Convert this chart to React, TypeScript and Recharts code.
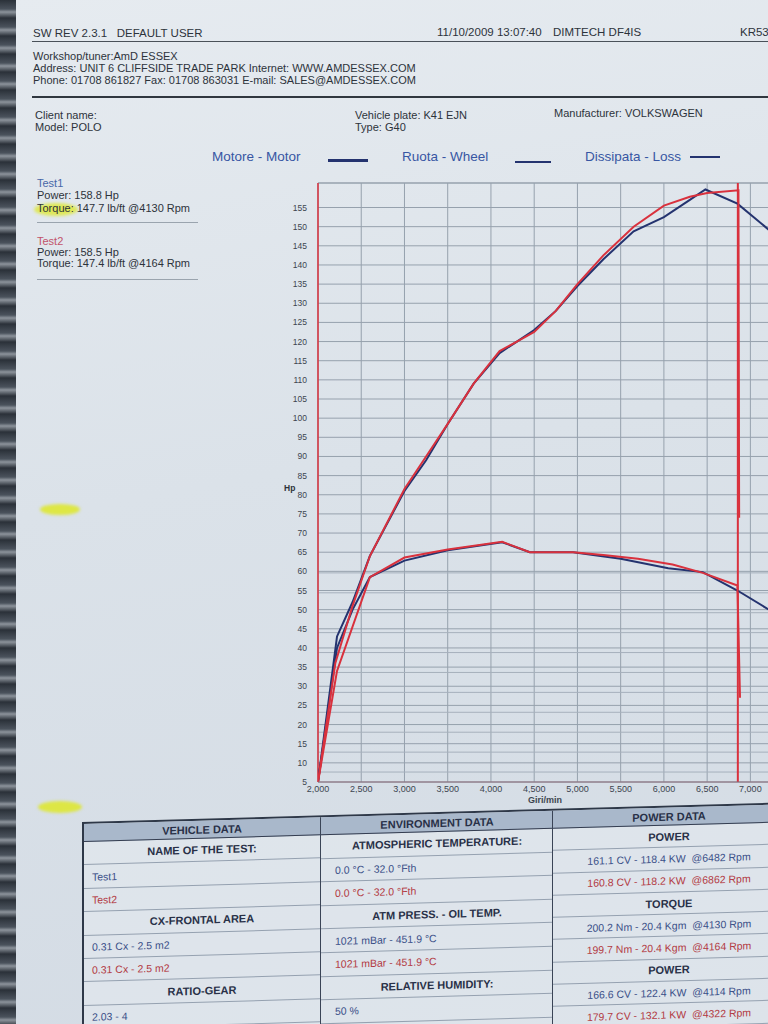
import { LineChart, Line, XAxis, YAxis, CartesianGrid, ReferenceLine, Label } from "recharts";

// rpm axis and Hp axis ticks
const rpmTicks = [2000, 2500, 3000, 3500, 4000, 4500, 5000, 5500, 6000, 6500, 7000];
const hpTicks = [5, 10, 15, 20, 25, 30, 35, 40, 45, 50, 55, 60, 65, 70, 75, 80, 85, 90, 95, 100, 105, 110, 115, 120, 125, 130, 135, 140, 145, 150, 155];
// second, faint grid that shows through in the lower half of the sheet (Hp units)
const auxGrid = [7.6, 12.8, 18, 23.2, 28.4, 33.6, 38.8, 44, 49.2, 54.4, 59.6];

// Test1 (blue)
const test1PowerRpm = [2000, 2220, 2400, 2600, 3000, 3250, 3500, 3800, 4100, 4300, 4500, 4750, 5000, 5300, 5650, 6000, 6300, 6480, 6850, 7250];
const test1PowerHp = [5, 43, 52, 64, 81, 89, 98.5, 109, 117, 120, 123, 128, 134.5, 141.5, 148.8, 152.5, 157, 159.7, 156, 148.5];
const test1TorqueRpm = [2000, 2220, 2400, 2600, 3000, 3500, 4130, 4450, 4950, 5500, 6050, 6450, 6850, 7250];
const test1Torque = [5, 40, 50, 58.5, 62.8, 65.5, 67.6, 65, 65, 63.3, 60.8, 59.8, 55, 49.5];

// Test2 (red)
const test2PowerRpm = [2000, 2200, 2400, 2600, 3000, 3250, 3500, 3800, 4100, 4300, 4500, 4750, 5000, 5300, 5650, 6000, 6300, 6500, 6862, 6870];
const test2PowerHp = [5, 36, 51, 64, 81.5, 90, 98.5, 109, 117.5, 120, 122.5, 128, 135, 142.5, 150, 155.5, 157.8, 158.8, 159.5, 74];
const test2TorqueRpm = [2000, 2220, 2600, 3000, 3500, 4130, 4450, 4950, 5300, 5700, 6100, 6450, 6850, 6880];
const test2Torque = [5, 34, 58.5, 63.6, 65.7, 67.7, 65, 65, 64.3, 63.3, 61.8, 59.6, 56.3, 27];

// table text
type Cell = { text: string; kind: "head" | "label" | "t1" | "t2" };
const vehicleCells: Cell[] = [
  { text: "VEHICLE DATA", kind: "head" },
  { text: "NAME OF THE TEST:", kind: "label" },
  { text: "Test1", kind: "t1" },
  { text: "Test2", kind: "t2" },
  { text: "CX-FRONTAL AREA", kind: "label" },
  { text: "0.31 Cx - 2.5 m2", kind: "t1" },
  { text: "0.31 Cx - 2.5 m2", kind: "t2" },
  { text: "RATIO-GEAR", kind: "label" },
  { text: "2.03 - 4", kind: "t1" },
];
const environmentCells: Cell[] = [
  { text: "ENVIRONMENT DATA", kind: "head" },
  { text: "ATMOSPHERIC TEMPERATURE:", kind: "label" },
  { text: "0.0 °C - 32.0 °Fth", kind: "t1" },
  { text: "0.0 °C - 32.0 °Fth", kind: "t2" },
  { text: "ATM PRESS. - OIL TEMP.", kind: "label" },
  { text: "1021 mBar - 451.9 °C", kind: "t1" },
  { text: "1021 mBar - 451.9 °C", kind: "t2" },
  { text: "RELATIVE HUMIDITY:", kind: "label" },
  { text: "50 %", kind: "t1" },
];
const powerCells: Cell[] = [
  { text: "POWER DATA", kind: "head" },
  { text: "POWER", kind: "label" },
  { text: "161.1 CV - 118.4 KW  @6482 Rpm", kind: "t1" },
  { text: "160.8 CV - 118.2 KW  @6862 Rpm", kind: "t2" },
  { text: "TORQUE", kind: "label" },
  { text: "200.2 Nm - 20.4 Kgm  @4130 Rpm", kind: "t1" },
  { text: "199.7 Nm - 20.4 Kgm  @4164 Rpm", kind: "t2" },
  { text: "POWER", kind: "label" },
  { text: "166.6 CV - 122.4 KW  @4114 Rpm", kind: "t1" },
  { text: "179.7 CV - 132.1 KW  @4322 Rpm", kind: "t2" },
];

const toPoints = (rpm: number[], vals: number[]) => rpm.map((r, i) => ({ rpm: r, hp: vals[i] }));

const BLUE = "#24336f";
const RED = "#d9313d";
const GRID = "#96a1ad";
const FONT = "'Liberation Sans', Arial, sans-serif";

const T = ({ x, y, size = 11, color = "#2d333b", bold = false, children }: any) => (
  <div style={{ position: "absolute", left: x, top: y - size * 0.6, fontSize: size, lineHeight: 1.15, color, fontWeight: bold ? 700 : 400, whiteSpace: "pre" }}>
    {children}
  </div>
);

function TableColumn({ left, width, rowH, cells, valueAlign, pad }: any) {
  return (
    <div style={{ position: "absolute", left, top: 0, width, borderLeft: left > 0 ? "1.5px solid #3a4456" : undefined }}>
      {cells.map((c: Cell, i: number) => {
        const isHead = c.kind === "head";
        const isLabel = c.kind === "label";
        const color = isHead || isLabel ? "#283047" : c.kind === "t1" ? "#3a4f88" : "#b23942";
        return (
          <div
            key={i}
            style={{
              height: isHead ? 18 : rowH,
              display: "flex",
              alignItems: "center",
              justifyContent: isHead || isLabel || valueAlign === "center" ? "center" : "flex-start",
              paddingLeft: isHead || isLabel ? 0 : pad,
              background: isHead ? "#a9b8cb" : "transparent",
              borderBottom: isHead ? "1.5px solid #343d50" : "1px solid #95a1b0",
              boxSizing: "border-box",
              fontSize: isHead || isLabel ? 11 : 10.5,
              fontWeight: isHead || isLabel ? 700 : 400,
              color,
              whiteSpace: "pre",
            }}
          >
            {c.text}
          </div>
        );
      })}
    </div>
  );
}

export default function App() {
  return (
    <div
      style={{
        position: "absolute",
        left: 0,
        top: 0,
        width: 768,
        height: 1024,
        overflow: "hidden",
        fontFamily: FONT,
        background: "linear-gradient(170deg, #e6ebf0 0%, #dbe2e9 45%, #d3dbe4 100%)",
      }}
    >
      {/* binder edge on the left of the photo */}
      <div style={{ position: "absolute", left: 0, top: 0, width: 16, height: 1024, background: "repeating-linear-gradient(180deg, #2b3139 0px, #4a525c 9px, #8c939b 12px, #2b3139 18px)" }} />

      {/* highlighter marks */}
      <div style={{ position: "absolute", left: 34, top: 203, width: 44, height: 13, borderRadius: "50%", background: "rgba(222,232,40,0.75)", filter: "blur(1.5px)" }} />
      <div style={{ position: "absolute", left: 40, top: 504, width: 40, height: 11, borderRadius: "50%", background: "rgba(222,232,40,0.85)", filter: "blur(1.5px)" }} />
      <div style={{ position: "absolute", left: 38, top: 801, width: 44, height: 12, borderRadius: "50%", background: "rgba(222,232,40,0.85)", filter: "blur(1.5px)" }} />

      {/* header */}
      <T x={33} y={34} size={11.5}>SW REV 2.3.1   DEFAULT USER</T>
      <T x={437} y={33} size={11.5}>11/10/2009 13:07:40</T>
      <T x={553} y={33} size={11.5}>DIMTECH DF4IS</T>
      <T x={740} y={33} size={11.5}>KR53</T>
      <div style={{ position: "absolute", left: 32, top: 41, width: 740, height: 1, background: "#4a5159" }} />

      <T x={33} y={57}>Workshop/tuner:AmD ESSEX</T>
      <T x={33} y={69}>Address: UNIT 6 CLIFFSIDE TRADE PARK Internet: WWW.AMDESSEX.COM</T>
      <T x={33} y={81}>Phone: 01708 861827 Fax: 01708 863031 E-mail: SALES@AMDESSEX.COM</T>
      <div style={{ position: "absolute", left: 32, top: 96, width: 740, height: 2, background: "#30373f" }} />

      <T x={35} y={116}>Client name:</T>
      <T x={35} y={128}>Model: POLO</T>
      <T x={355} y={116}>Vehicle plate: K41 EJN</T>
      <T x={355} y={128}>Type: G40</T>
      <T x={554} y={114}>Manufacturer: VOLKSWAGEN</T>

      {/* legend */}
      <T x={212} y={157} size={13.5} color="#3756a3">Motore - Motor</T>
      <div style={{ position: "absolute", left: 328, top: 159, width: 40, height: 3, background: BLUE }} />
      <T x={402} y={157} size={13.5} color="#3756a3">Ruota - Wheel</T>
      <div style={{ position: "absolute", left: 515, top: 161, width: 36, height: 2, background: BLUE }} />
      <T x={585} y={157} size={13.5} color="#3756a3">Dissipata - Loss</T>
      <div style={{ position: "absolute", left: 690, top: 156, width: 30, height: 1.5, background: BLUE }} />

      {/* test summaries */}
      <T x={37} y={184} color="#4767a8">Test1</T>
      <T x={37} y={196}>Power: 158.8 Hp</T>
      <T x={37} y={209}>Torque: 147.7 lb/ft @4130 Rpm</T>
      <div style={{ position: "absolute", left: 37, top: 222, width: 161, height: 1, background: "#9aa4ae" }} />
      <T x={37} y={242} color="#c2536b">Test2</T>
      <T x={37} y={253}>Power: 158.5 Hp</T>
      <T x={37} y={264}>Torque: 147.4 lb/ft @4164 Rpm</T>
      <div style={{ position: "absolute", left: 37, top: 279, width: 161, height: 1, background: "#9aa4ae" }} />

      <T x={284} y={489} size={8.5} bold>Hp</T>

      <div style={{ position: "absolute", left: 0, top: 0 }}>
        <LineChart width={772} height={808} margin={{ top: 183, right: 0, left: 0, bottom: 0 }}>
          <CartesianGrid stroke={GRID} strokeWidth={1} />
          <XAxis
            type="number"
            dataKey="rpm"
            domain={[2000, 7250]}
            ticks={rpmTicks}
            allowDataOverflow
            interval={0}
            height={26}
            tickLine={false}
            tickSize={2}
            tickMargin={2}
            stroke="#8a6a78"
            tick={{ fontSize: 9, fill: "#3d4550", fontFamily: FONT }}
            tickFormatter={(v: number) => v.toLocaleString("en-US")}
          >
            <Label value="Giri/min" position="insideBottom" offset={5} style={{ fontSize: 9, fontWeight: 700, fill: "#3d4550", fontFamily: FONT }} />
          </XAxis>
          <YAxis
            type="number"
            domain={[5, 161.4]}
            ticks={hpTicks}
            allowDataOverflow
            interval={0}
            width={318}
            axisLine={false}
            tickLine={false}
            tickSize={6}
            tickMargin={5}
            tick={{ fontSize: 8.5, fill: "#3d4550", fontFamily: FONT }}
          />
          {auxGrid.map((v) => (
            <ReferenceLine key={v} y={v} stroke="#a6b0bc" strokeWidth={1} />
          ))}
          <ReferenceLine y={161.4} stroke={GRID} />
          <ReferenceLine x={2000} stroke={RED} strokeWidth={1.5} />
          <ReferenceLine x={6855} stroke={RED} strokeWidth={2} />
          <Line data={toPoints(test1PowerRpm, test1PowerHp)} dataKey="hp" type="linear" stroke={BLUE} strokeWidth={2} dot={false} isAnimationActive={false} />
          <Line data={toPoints(test1TorqueRpm, test1Torque)} dataKey="hp" type="linear" stroke={BLUE} strokeWidth={2} dot={false} isAnimationActive={false} />
          <Line data={toPoints(test2PowerRpm, test2PowerHp)} dataKey="hp" type="linear" stroke={RED} strokeWidth={2} dot={false} isAnimationActive={false} />
          <Line data={toPoints(test2TorqueRpm, test2Torque)} dataKey="hp" type="linear" stroke={RED} strokeWidth={2} dot={false} isAnimationActive={false} />
        </LineChart>
      </div>

      {/* data table */}
      <div
        style={{
          position: "absolute",
          left: 82,
          top: 822,
          width: 700,
          height: 260,
          transform: "skewY(-1.6deg)",
          transformOrigin: "0 0",
          borderTop: "2px solid #2e3848",
          borderLeft: "2px solid #2e3848",
          background: "rgba(232,237,242,0.45)",
        }}
      >
        <TableColumn left={0} width={236} rowH={23.4} cells={vehicleCells} valueAlign="left" pad={8} />
        <TableColumn left={236} width={232} rowH={23.6} cells={environmentCells} valueAlign="left" pad={14} />
        <TableColumn left={468} width={232} rowH={22.3} cells={powerCells} valueAlign="center" pad={0} />
      </div>
    </div>
  );
}
